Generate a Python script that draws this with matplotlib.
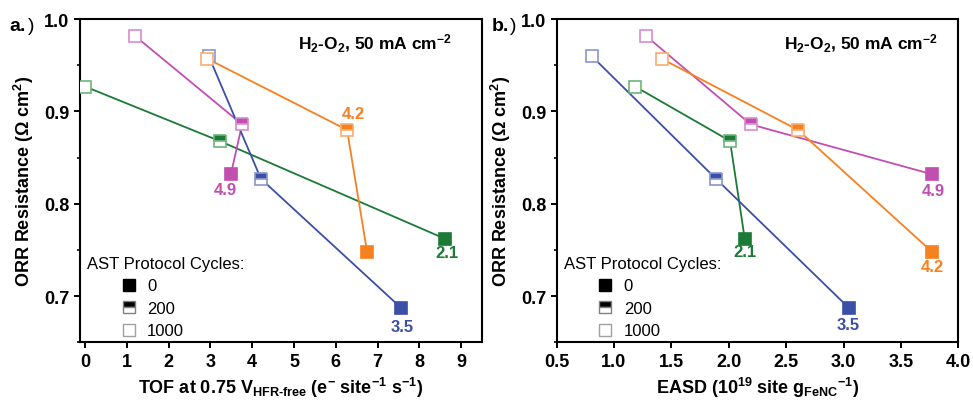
import matplotlib
matplotlib.use("Agg")
import matplotlib.pyplot as plt
from matplotlib.lines import Line2D
from matplotlib.ticker import MultipleLocator, FormatStrFormatter

plt.rcParams['font.family'] = ['Liberation Sans', 'DejaVu Sans']
plt.rcParams['font.weight'] = 'bold'
plt.rcParams['axes.labelweight'] = 'bold'
plt.rcParams['mathtext.fontset'] = 'custom'
plt.rcParams['mathtext.rm'] = 'Liberation Sans'
plt.rcParams['mathtext.bf'] = 'Liberation Sans:bold'
plt.rcParams['mathtext.default'] = 'bf'

# series order: 1000, 200, 0 AST cycles
catalysts = ['green', 'magenta', 'blue', 'orange']
colors = {'green': '#1b7a35', 'magenta': '#c04fb0', 'blue': '#3b4fa8', 'orange': '#f7801f'}
edge_light = {'green': '#6cb57c', 'magenta': '#d78ccd', 'blue': '#8a96cc', 'orange': '#f9ad70'}
end_labels = {'green': '2.1', 'magenta': '4.9', 'blue': '3.5', 'orange': '4.2'}

orr = {
    'green':   [0.927, 0.868, 0.762],
    'magenta': [0.982, 0.886, 0.832],
    'blue':    [0.960, 0.827, 0.687],
    'orange':  [0.957, 0.880, 0.748],
}
tof = {
    'green':   [0.00, 3.22, 8.62],
    'magenta': [1.19, 3.76, 3.49],
    'blue':    [2.96, 4.21, 7.57],
    'orange':  [2.93, 6.27, 6.75],
}
easd = {
    'green':   [1.184, 2.011, 2.139],
    'magenta': [1.277, 2.191, 3.770],
    'blue':    [0.806, 1.889, 3.048],
    'orange':  [1.417, 2.602, 3.770],
}
legend_labels = ['0', '200', '1000']

# label offsets in pixels (dx, dy) and which point they belong to
label_pos_a = {'green': (2, -14, 2), 'magenta': (-6, -15, 2), 'blue': (1, -18, 2), 'orange': (6, 16, 1)}
label_pos_b = {'green': (0, -13, 2), 'magenta': (1, -16, 2), 'blue': (-1, -16, 2), 'orange': (0, -15, 2)}


def draw_panel(ax, xdata, label_pos, note_x):
    for c in catalysts:
        xs, ys = xdata[c], orr[c]
        ax.plot(xs, ys, '-', color=colors[c], lw=1.3, zorder=2)
        # 1000 cycles: open
        ax.plot(xs[0], ys[0], 's', ms=8.5, mfc='white', mec=edge_light[c], mew=1.2, zorder=3)
        # 200 cycles: top half filled
        ax.plot(xs[1], ys[1], 's', ms=8.5, fillstyle='top', mfc=colors[c],
                markerfacecoloralt='white', mec=edge_light[c], mew=1.2, zorder=3)
        # 0 cycles: filled
        ax.plot(xs[2], ys[2], 's', ms=8.5, mfc=colors[c], mec=colors[c], mew=1.2, zorder=3)
        dx, dy, i = label_pos[c]
        ax.annotate(end_labels[c], (xs[i], ys[i]), xytext=(dx * 0.72, dy * 0.72),
                    textcoords='offset points', ha='center', va='center',
                    color=colors[c], fontsize=12, fontweight='bold')

    ax.set_ylim(0.65, 1.0)
    ax.yaxis.set_major_locator(MultipleLocator(0.1))
    ax.yaxis.set_minor_locator(MultipleLocator(0.05))
    ax.tick_params(which='major', direction='out', length=4, width=1.4, labelsize=13)
    ax.tick_params(which='minor', direction='out', length=2.5, width=1.2)
    ax.tick_params(axis='x', which='minor', length=0)
    for s in ax.spines.values():
        s.set_linewidth(1.5)
    ax.set_ylabel(r'ORR Resistance (Ω cm$^{2}$)', fontsize=13, labelpad=6)
    ax.text(note_x, 0.925, r'H$_{2}$-O$_{2}$, 50 mA cm$^{-2}$', transform=ax.transAxes,
            ha='right', va='center', fontsize=12.5)

    handles = [
        Line2D([], [], ls='none', marker='s', ms=8.5, mfc='black', mec='black'),
        Line2D([], [], ls='none', marker='s', ms=8.5, fillstyle='top', mfc='black',
               markerfacecoloralt='white', mec='#808080', mew=1.0),
        Line2D([], [], ls='none', marker='s', ms=8.5, mfc='white', mec='#a0a0a0', mew=1.0),
    ]
    ax.legend(handles, legend_labels, title='AST Protocol Cycles:',
              loc='lower left', bbox_to_anchor=(0.018, 0.012), frameon=False,
              borderpad=0, borderaxespad=0, handlelength=5.0, handletextpad=-1.4,
              labelspacing=0.45, alignment='left',
              prop={'weight': 'normal', 'size': 12},
              title_fontproperties={'weight': 'normal', 'size': 12})


fig = plt.figure(figsize=(9.73, 4.02), dpi=100)
ax1 = fig.add_axes([0.0822, 0.146, 0.4132, 0.804])
ax2 = fig.add_axes([0.572, 0.146, 0.413, 0.804])

draw_panel(ax1, tof, label_pos_a, 0.925)
ax1.set_xlim(-0.12, 9.5)
ax1.xaxis.set_major_locator(MultipleLocator(1))
ax1.set_xlabel(r'TOF at 0.75 V$_{HFR\text{-}free}$ (e$^{-}$ site$^{-1}$ s$^{-1}$)',
               fontsize=13, labelpad=4)

draw_panel(ax2, easd, label_pos_b, 0.95)
ax2.set_xlim(0.5, 4.0)
ax2.xaxis.set_major_locator(MultipleLocator(0.5))
ax2.xaxis.set_major_formatter(FormatStrFormatter('%.1f'))
ax2.set_xlabel(r'EASD (10$^{19}$ site g$_{FeNC}{}^{-1}$)', fontsize=13, labelpad=4)

fig.text(0.010, 0.933, 'a.', fontsize=14, fontweight='bold', va='center')
fig.text(0.029, 0.933, ')', fontsize=14, fontweight='normal', va='center')
fig.text(0.5055, 0.933, 'b.', fontsize=14, fontweight='bold', va='center')
fig.text(0.5245, 0.933, ')', fontsize=14, fontweight='normal', va='center')

fig.savefig('out.png', dpi=100)
